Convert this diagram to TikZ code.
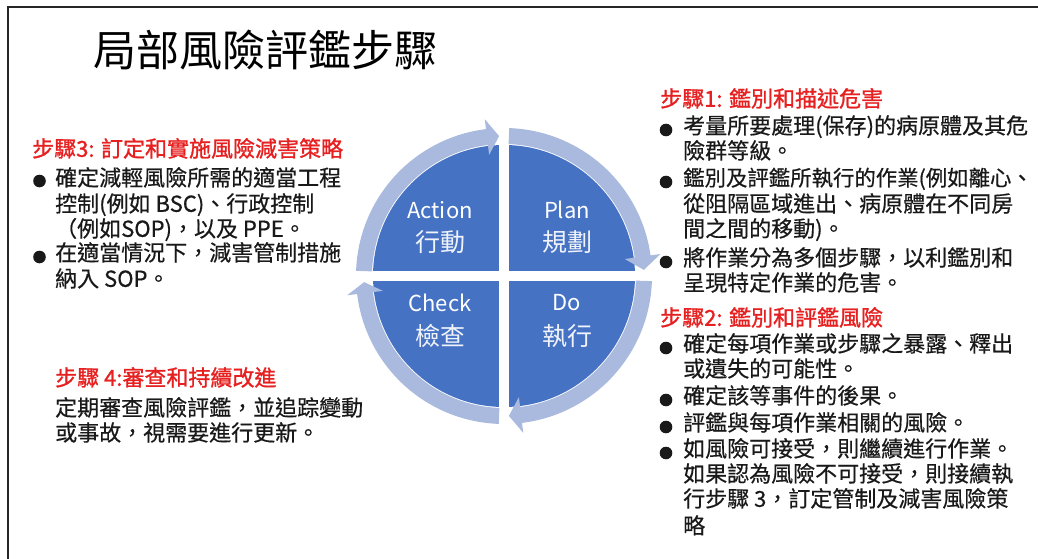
\documentclass[tikz,border=0pt]{standalone}
\usepackage{fontspec}
\setmainfont{Noto Sans CJK TC}
\newfontfamily\headfont{Noto Sans CJK TC}[FakeBold=1.2]
\newfontfamily\bodyfont{Noto Sans CJK TC}[FakeBold=0.5]
\definecolor{qblue}{RGB}{70,114,196}
\definecolor{ringc}{RGB}{170,186,222}
\definecolor{headred}{RGB}{230,32,32}
\tikzset{
  body/.style={anchor=west, inner sep=0pt, text height=0.88em, text depth=0.12em, font=\bodyfont\fontsize{22}{26}\selectfont, text=black!90},
  head/.style={anchor=west, inner sep=0pt, text height=0.88em, text depth=0.12em, font=\headfont\fontsize{22}{26}\selectfont, text=headred},
  lat/.style={inner sep=0pt, text=white, font=\fontsize{22}{26}\selectfont},
  cjk/.style={inner sep=0pt, text height=0.88em, text depth=0.12em, text=white!92!qblue, font=\fontsize{25}{28}\selectfont},
  bul/.style={fill=black!90},
  ringarr/.style={fill=ringc},
  quad/.style={fill=qblue},
  frameline/.style={draw=black!85, line width=2pt}
}
\newcommand\ringarrow[3]{\fill[ringarr] (#1:148) arc[start angle=#1, end angle=#2, radius=148] -- (#2:158) -- (#3:140) -- (#2:122) -- (#2:132) arc[start angle=#2, end angle=#1, radius=132] -- cycle;}
\begin{document}
\begin{tikzpicture}[x=1pt,y=-1pt]
\useasboundingbox (0,0) rectangle (1038,559);
\draw[frameline] (8,559) -- (8,7) -- (1038,7);
\node[anchor=west, inner sep=0pt, font=\fontsize{43}{48}\selectfont, text height=0.88em, text depth=0.12em] (title) at (93,63) {局部風險評鑑步驟};

% cycle diagram
\begin{scope}[shift={(504,276)}, yscale=-1]
  \begin{scope}
    \clip (0,0) circle (131);
    \fill[quad] (5,5) rectangle (140,140);
    \fill[quad] (-5,5) rectangle (-140,140);
    \fill[quad] (5,-5) rectangle (140,-140);
    \fill[quad] (-5,-5) rectangle (-140,-140);
  \end{scope}
  \ringarrow{178}{97}{92}
  \ringarrow{88}{8}{2.5}
  \ringarrow{-2}{-83}{-88}
  \ringarrow{-92}{-173}{-177.5}
\end{scope}
\node[lat] (act) at (440,210) {Action};
\node[cjk] (actc) at (440,248) {行動};
\node[lat] (plan) at (567,210) {Plan};
\node[cjk] (planc) at (567,248) {規劃};
\node[lat] (chk) at (440,303) {Check};
\node[cjk] (chkc) at (440,342) {檢查};
\node[lat] (do) at (567,303) {Do};
\node[cjk] (doc) at (567,342) {執行};

% step 3
\node[head] (h3) at (32,153) {步驟3: 訂定和實施風險減害策略};
\fill[bul] (39.5,181) circle (6.3);
\node[body] (l1) at (55,182) {確定減輕風險所需的適當工程};
\node[body] (l2) at (55,208) {控制(例如 BSC)、行政控制};
\node[body] (l3) at (55,233) {（例如SOP)，以及 PPE。};
\fill[bul] (39.5,257) circle (6.3);
\node[body] (l4) at (55,257) {在適當情況下，減害管制措施};
\node[body] (l5) at (55,283) {納入 SOP。};

% step 4
\node[head] (h4) at (55,382) {步驟 4:審查和持續改進};
\node[body] (s1) at (55,412) {定期審查風險評鑑，並追踪變動};
\node[body] (s2) at (55,437) {或事故，視需要進行更新。};

% step 1
\node[head] (h1) at (660,103) {步驟1: 鑑別和描述危害};
\fill[bul] (666,130) circle (6.3);
\node[body] (r1) at (683,130) {考量所要處理(保存)的病原體及其危};
\node[body] (r2) at (683,155) {險群等級。};
\fill[bul] (666,182) circle (6.3);
\node[body, font=\bodyfont\fontsize{21.4}{26}\selectfont] (r3) at (683,182) {鑑別及評鑑所執行的作業(例如離心、};
\node[body] (r4) at (683,208) {從阻隔區域進出、病原體在不同房};
\node[body] (r5) at (683,233) {間之間的移動)。};
\fill[bul] (666,262) circle (6.3);
\node[body] (r6) at (683,262) {將作業分為多個步驟，以利鑑別和};
\node[body] (r7) at (683,287) {呈現特定作業的危害。};

% step 2
\node[head] (h2) at (660,322) {步驟2: 鑑別和評鑑風險};
\fill[bul] (666,348) circle (6.3);
\node[body] (q1) at (683,348) {確定每項作業或步驟之暴露、釋出};
\node[body] (q2) at (683,373) {或遺失的可能性。};
\fill[bul] (666,400) circle (6.3);
\node[body] (q3) at (683,400) {確定該等事件的後果。};
\fill[bul] (666,427) circle (6.3);
\node[body] (q4) at (683,427) {評鑑與每項作業相關的風險。};
\fill[bul] (666,453) circle (6.3);
\node[body] (q5) at (683,453) {如風險可接受，則繼續進行作業。};
\node[body] (q6) at (683,478) {如果認為風險不可接受，則接續執};
\node[body] (q7) at (683,503) {行步驟 3，訂定管制及減害風險策};
\node[body] (q8) at (683,530) {略};
\end{tikzpicture}
\end{document}
